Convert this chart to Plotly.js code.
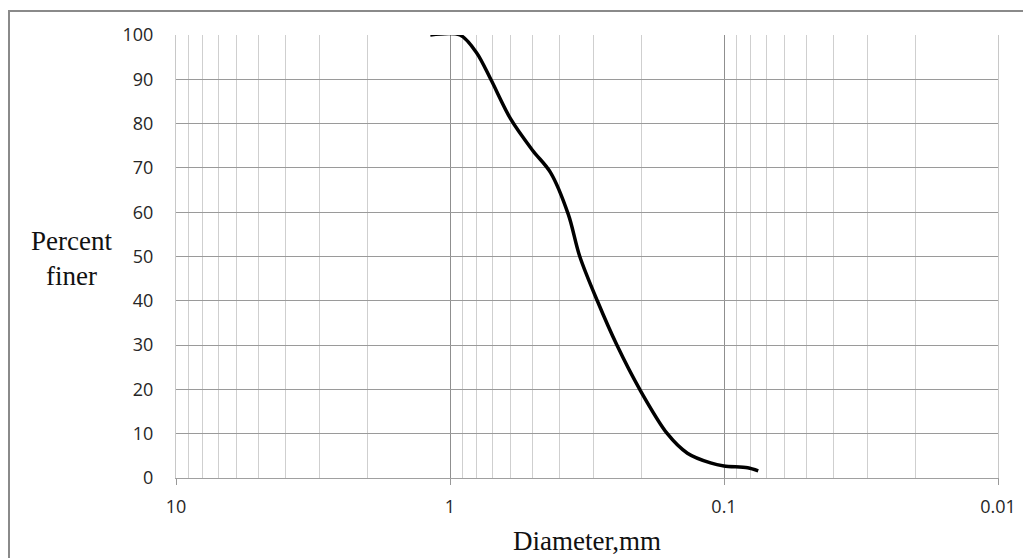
<!DOCTYPE html>
<html>
<head>
<meta charset="utf-8">
<script src="https://cdn.plot.ly/plotly-3.0.1.min.js"></script>
<style>
  html, body { margin: 0; padding: 0; background: #fff; overflow: hidden; }
  #frame { position: absolute; left: 8px; top: 10px; width: 1100px; height: 700px; border: 2px solid #8a8a8a; box-sizing: border-box; pointer-events: none; z-index: 5; }
  #chart { position: absolute; left: 0; top: 0; width: 1023px; height: 558px; }
</style>
</head>
<body>
<div id="chart"></div>
<div id="frame"></div>
<script>
// Grain size distribution
const diameterMm = [1.18, 0.92, 0.80, 0.71, 0.60, 0.50, 0.43, 0.37, 0.336, 0.29, 0.246, 0.203, 0.161, 0.136, 0.112, 0.10, 0.082, 0.075];
const percentFiner = [100, 100, 96, 90, 81, 74, 69, 59.5, 50, 40, 30, 20, 10, 5.6, 3.4, 2.7, 2.3, 1.6];

const xTickVals = [10, 1, 0.1, 0.01];
const xTickText = ['10', '1', '0.1', '0.01'];
const yTickVals = [0, 10, 20, 30, 40, 50, 60, 70, 80, 90, 100];

// minor grid positions 2..9 in each decade
const minorVals = [];
[0.01, 0.1, 1].forEach(d => { for (let k = 2; k <= 9; k++) minorVals.push(+(k * d).toPrecision(3)); });

const trace = {
  x: diameterMm,
  y: percentFiner,
  type: 'scatter',
  mode: 'lines',
  line: { color: '#000', width: 3.5, shape: 'spline', smoothing: 0.9 },
  cliponaxis: false,
  hoverinfo: 'skip'
};

const tickFont = { family: '"Open Sans", "Liberation Sans", sans-serif', size: 18, color: '#262626' };
const serif = '"Liberation Serif", "DejaVu Serif", serif';

const layout = {
  width: 1023, height: 558,
  margin: { l: 176, r: 25, t: 35, b: 80 },
  paper_bgcolor: '#fff', plot_bgcolor: '#fff',
  showlegend: false,
  xaxis: {
    type: 'log',
    range: [1, -2],
    tickmode: 'array', tickvals: xTickVals, ticktext: xTickText,
    tickfont: tickFont,
    ticks: 'outside', ticklen: 6, tickcolor: '#999', tickwidth: 1,
    ticklabelstandoff: 6,
    showgrid: true, gridcolor: '#8f8f8f', gridwidth: 1,
    minor: { tickmode: 'array', tickvals: minorVals, showgrid: true, gridcolor: '#cfcfcf', gridwidth: 1, ticks: '' },
    showline: true, linecolor: '#a0a0a0', linewidth: 1, mirror: false,
    zeroline: false,
    title: { text: 'Diameter,mm', font: { family: serif, size: 27, color: '#111' }, standoff: 14 }
  },
  yaxis: {
    range: [0, 100],
    tickmode: 'array', tickvals: yTickVals,
    tickfont: tickFont,
    ticks: '', ticklabelstandoff: 18,
    showgrid: true, gridcolor: '#9a9a9a', gridwidth: 1,
    showline: true, linecolor: '#c8c8c8', linewidth: 1, mirror: true,
    zeroline: false
  },
  annotations: [{
    text: 'Percent<br>finer',
    xref: 'paper', yref: 'paper',
    x: -0.127, y: 0.495, xanchor: 'center', yanchor: 'middle',
    showarrow: false, align: 'center',
    font: { family: serif, size: 27, color: '#111' }
  }]
};

Plotly.newPlot('chart', [trace], layout, { staticPlot: true, displayModeBar: false });
</script>
</body>
</html>
